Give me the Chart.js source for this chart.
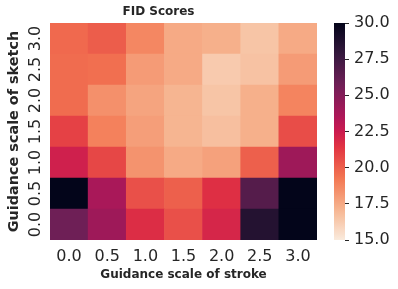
<!DOCTYPE html>
<html><head><meta charset="utf-8">
<script src="https://cdn.jsdelivr.net/npm/chart.js@4/dist/chart.umd.min.js"></script>
<style>
html,body{margin:0;padding:0;background:#fff;}
#wrap{position:relative;width:398px;height:289px;overflow:hidden;}
#c1{position:absolute;left:0;top:0;}
#c2{position:absolute;left:320px;top:0;}
</style></head><body>
<div id="wrap"><canvas id="c1" width="367" height="289"></canvas><canvas id="c2" width="78" height="289"></canvas></div>
<script>
// ---- data ----
const strokeScales = ['0.0','0.5','1.0','1.5','2.0','2.5','3.0'];
const sketchScales = ['0.0','0.5','1.0','1.5','2.0','2.5','3.0'];
// FID per sketch scale (row), values across stroke scales
const fidSketch00 = [25.8, 24.1, 21.7, 20.5, 22.0, 28.6, 30.0];
const fidSketch05 = [30.0, 23.7, 20.5, 20.0, 21.6, 26.7, 30.0];
const fidSketch10 = [22.3, 20.8, 18.3, 17.5, 17.8, 20.0, 24.1];
const fidSketch15 = [21.0, 18.9, 17.9, 17.1, 16.7, 17.3, 20.6];
const fidSketch20 = [19.6, 18.4, 17.7, 17.1, 16.5, 17.3, 18.8];
const fidSketch25 = [19.6, 19.5, 18.0, 17.5, 16.3, 16.6, 18.0];
const fidSketch30 = [19.7, 20.1, 18.7, 17.5, 17.3, 16.5, 17.5];
const colorbarTicks = [15.0, 17.5, 20.0, 22.5, 25.0, 27.5, 30.0];
const vmin = 15, vmax = 30;

const fidRows = [fidSketch00, fidSketch05, fidSketch10, fidSketch15, fidSketch20, fidSketch25, fidSketch30];

// rocket colormap (dark -> light); used reversed
const rocketStops = [[0,[3,5,26]],[0.143,[53,25,62]],[0.286,[112,31,87]],[0.429,[173,23,89]],[0.5,[203,27,79]],[0.571,[225,51,66]],[0.714,[243,118,81]],[0.857,[246,180,143]],[1,[250,235,221]]];
function rocket(t){
  t = Math.max(0, Math.min(1, t));
  for (let i=1;i<rocketStops.length;i++){
    const [t1,c1] = rocketStops[i];
    const [t0,c0] = rocketStops[i-1];
    if (t <= t1){
      const f = (t-t0)/(t1-t0);
      const c = c0.map((v,k)=>Math.round(v+(c1[k]-v)*f));
      return 'rgb('+c.join(',')+')';
    }
  }
  return 'rgb(250,235,221)';
}
function fidColor(v){ return rocket(1 - (v - vmin)/(vmax - vmin)); }

Chart.defaults.font.family = "'DejaVu Sans', sans-serif";
Chart.defaults.color = '#262626';
Chart.defaults.animation = false;

const textColor = '#262626';

new Chart(document.getElementById('c1'), {
  type: 'bar',
  data: {
    labels: strokeScales,
    datasets: sketchScales.map((s, i) => ({
      label: s,
      data: strokeScales.map(() => 1),
      backgroundColor: fidRows[i].map(fidColor),
      borderWidth: 0,
      barPercentage: 1,
      categoryPercentage: 1
    }))
  },
  options: {
    responsive: false,
    layout: { padding: { left: 0, right: 50, top: 0, bottom: 0 } },
    plugins: {
      legend: { display: false },
      tooltip: { enabled: false },
      title: {
        display: true, text: 'FID Scores', color: textColor,
        font: { size: 12, weight: 'bold' },
        padding: { top: 5, bottom: 3.6 }
      }
    },
    scales: {
      x: {
        type: 'category', stacked: true,
        grid: { display: false, drawTicks: false }, border: { display: false },
        ticks: { color: textColor, font: { size: 16 }, padding: 7, maxRotation: 0 },
        title: { display: true, text: 'Guidance scale of stroke', color: textColor,
                 font: { size: 12, weight: 'bold' }, padding: { top: 0, bottom: 7 } },
        afterFit: s => { s.height = 49; }
      },
      y: {
        type: 'linear', stacked: true, min: 0, max: 7,
        grid: { display: false, drawTicks: false }, border: { display: false },
        afterBuildTicks: s => { s.ticks = sketchScales.map((_, i) => ({ value: i + 0.5 })); },
        ticks: {
          color: textColor, font: { size: 16 }, padding: 1, autoSkip: false,
          minRotation: 90, maxRotation: 90, crossAlign: 'center',
          callback: v => sketchScales[Math.round(v - 0.5)]
        },
        title: { display: true, text: 'Guidance scale of sketch', color: textColor,
                 font: { size: 14.4, weight: 'bold' }, padding: { top: 6, bottom: 0 } },
        afterFit: s => { s.width = 50; }
      }
    }
  }
});

new Chart(document.getElementById('c2'), {
  type: 'bar',
  data: {
    labels: [''],
    datasets: [{
      data: [[vmin, vmax]],
      borderWidth: 0,
      barPercentage: 1,
      categoryPercentage: 1,
      backgroundColor: (ctx) => {
        const area = ctx.chart.chartArea;
        if (!area) return '#000';
        const g = ctx.chart.ctx.createLinearGradient(0, area.bottom, 0, area.top);
        for (let i = 0; i <= 40; i++) {
          const f = i / 40;
          g.addColorStop(f, rocket(1 - f));
        }
        return g;
      }
    }]
  },
  options: {
    responsive: false,
    layout: { padding: { left: 14, right: 0, top: 23, bottom: 49 } },
    plugins: { legend: { display: false }, tooltip: { enabled: false }, title: { display: false } },
    scales: {
      x: { display: false },
      y: {
        position: 'right', min: vmin, max: vmax,
        grid: { drawOnChartArea: false, drawTicks: true, tickLength: 4, tickColor: textColor, tickWidth: 1 },
        border: { display: false },
        afterBuildTicks: s => { s.ticks = colorbarTicks.map(v => ({ value: v })); },
        ticks: { color: textColor, font: { size: 16 }, padding: 5, callback: v => Number(v).toFixed(1) },
        afterFit: s => { s.width = 53; }
      }
    }
  }
});
</script>
</body></html>
